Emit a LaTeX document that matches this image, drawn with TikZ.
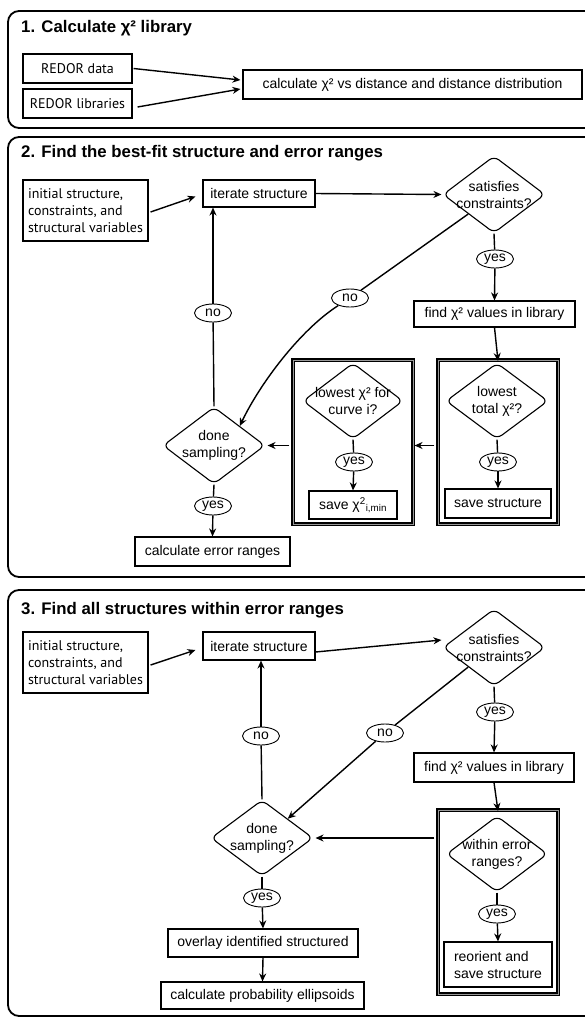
\documentclass[tikz,border=0pt]{standalone}
\usepackage{fontspec}
\setmainfont{Liberation Sans}
\newfontfamily\myr{PT Sans}
\usetikzlibrary{arrows.meta,shapes.geometric}
\begin{document}
\begin{tikzpicture}[x=1pt,y=-1pt,
  base/.style={font=\fontsize{14}{17}\selectfont},
  box/.style={draw, line width=1.1pt, inner sep=0pt, base},
  sz/.style 2 args={minimum width=#1pt, minimum height=#2pt},
  dia/.style={draw, diamond, line width=1.1pt, inner sep=0pt, rounded corners=6pt},
  dtext/.style={align=center, inner sep=0pt, base},
  lbl/.style={draw, ellipse, line width=0.9pt, inner sep=0pt, minimum width=37pt, minimum height=18pt, base},
  frame/.style={draw, double=black!40, line width=1.1pt, double distance=1pt, inner sep=0pt},
  panel/.style={draw, line width=1.8pt, rounded corners=11pt, inner sep=0pt},
  title/.style={anchor=west, inner sep=0pt, font=\fontsize{16.8}{20}\selectfont\bfseries},
  arr/.style={-{Stealth[length=8pt,width=7pt]}, line width=1.4pt},
  ln/.style={line width=1.4pt}]
\useasboundingbox (0,0) rectangle (585,1018);

% panels
\node[panel, sz={592}{117}] (p1) at (304,69.5) {};
\node[panel, sz={592}{440}] (p2) at (304,357) {};
\node[panel, sz={592}{426}] (p3) at (304,803) {};
\node[title] (t1) at (21,28) {1. Calculate χ² library};
\node[title] (t2) at (21,153) {2. Find the best-fit structure and error ranges};
\node[title] (t3) at (21,610) {3. Find all structures within error ranges};

% panel 1
\node[box, sz={109}{29}, font=\myr\fontsize{14}{17}\selectfont] (redata) at (77.5,68.5) {REDOR data};
\node[box, sz={109}{29}, font=\myr\fontsize{14}{17}\selectfont] (relib) at (77.5,103.5) {REDOR libraries};
\node[box, sz={339}{29}] (calc) at (412.5,84.5) {calculate χ² vs distance and distance distribution};
\draw[arr] ([shift={(1,0)}]redata.east) -- ([shift={(-2,-4.5)}]calc.west);
\draw[arr] ([shift={(5,3.5)}]relib.east) -- ([shift={(-2,4.5)}]calc.west);

% panel 2
\node[box, sz={125}{61}, align=left, font=\myr\fontsize{14}{17}\selectfont] (init2) at (85.5,210.5) {initial structure,\\constraints, and\\structural variables};
\node[box, sz={112}{27}] (iter2) at (259,193.5) {iterate structure};
\node[dia, sz={102}{77}] (sat2) at (494,194.5) {};
\node[dtext] (sat2t) at (sat2) {satisfies\\constraints?};
\node[lbl] (yes2a) at (495,259) {yes};
\node[box, sz={161}{26}] (find2) at (494.5,314) {find χ² values in library};
\node[frame, sz={120}{164}] (R2) at (498,442) {};
\node[dia, sz={102}{76}] (lowtot) at (497,401) {};
\node[dtext] (lowtott) at (lowtot) {lowest\\total χ²?};
\node[lbl] (yes2b) at (498,462) {yes};
\node[box, sz={106}{29}] (savestr) at (498,503.5) {save structure};
\node[frame, sz={120}{164}] (L2) at (353,442) {};
\node[dia, sz={100}{76}] (lowi) at (353,401) {};
\node[dtext] (lowit) at (lowi) {lowest χ² for\\curve i?};
\node[lbl] (yes2c) at (354,462) {yes};
\node[box, sz={88}{28}] (savechi) at (353,505) {save χ\textsuperscript{2}\textsubscript{i,min}};
\node[dia, sz={102}{77}] (done2) at (214,445.5) {};
\node[dtext] (done2t) at (done2) {done\\sampling?};
\node[lbl] (no2a) at (213,313) {no};
\node[lbl] (no2b) at (350,298) {no};
\node[lbl] (yes2d) at (213,506) {yes};
\node[box, sz={155}{29}] (errs) at (212.5,551.5) {calculate error ranges};

\draw[arr] ([shift={(2,1.5)}]init2.east) -- ([shift={(-7,3)}]iter2.west);
\draw[arr] (iter2.east) -- ([xshift=-1pt]sat2.west);
\draw[ln] (sat2.south) -- (yes2a);
\draw[arr] (yes2a) -- (find2.north);
\draw[arr] (find2.south) -- ([yshift=-1.5pt]R2.north);
\draw[ln] (lowtot.south) -- (yes2b);
\draw[arr] (yes2b) -- (savestr.north);
\draw[ln] (lowi.south) -- (yes2c);
\draw[arr] (yes2c) -- (savechi.north);
\draw[arr] ([xshift=-3pt]R2.west |- done2) -- ([xshift=1pt]L2.east |- done2);
\draw[arr] ([xshift=-3pt]L2.west |- done2) -- ([xshift=2pt]done2.east);
\draw[ln] (sat2.south west) -- (no2b);
\draw[arr] (no2b) .. controls +(-50,32) and +(20,-42) .. (done2.north east);
\draw[ln] (done2.north) -- (no2a);
\draw[arr] (no2a) -- (no2a |- iter2.south);
\draw[ln] (done2.south) -- (yes2d);
\draw[arr] (yes2d) -- (errs.north);

% panel 3
\node[box, sz={125}{61}, align=left, font=\myr\fontsize{14}{17}\selectfont] (init3) at (85.5,662.5) {initial structure,\\constraints, and\\structural variables};
\node[box, sz={112}{28}] (iter3) at (259,646) {iterate structure};
\node[dia, sz={102}{77}] (sat3) at (494,647.5) {};
\node[dtext] (sat3t) at (sat3) {satisfies\\constraints?};
\node[lbl] (yes3a) at (495,712) {yes};
\node[box, sz={160}{29}] (find3) at (494,767.5) {find χ² values in library};
\node[frame, sz={120}{184}] (R3) at (498,902) {};
\node[dia, sz={101}{76}] (within) at (497,854) {};
\node[dtext] (withint) at (within) {within error\\ranges?};
\node[lbl] (yes3b) at (497,914) {yes};
\node[box, sz={108}{45}, align=left] (reor) at (498,964.5) {reorient and\\save structure};
\node[dia, sz={102}{76}] (done3) at (262,838) {};
\node[dtext] (done3t) at (done3) {done\\sampling?};
\node[lbl] (no3a) at (261,736) {no};
\node[lbl] (no3b) at (385,733) {no};
\node[lbl] (yes3c) at (262,898) {yes};
\node[box, sz={190}{28}] (overlay) at (263,943) {overlay identified structured};
\node[box, sz={203}{27}] (cprob) at (262.5,995.5) {calculate probability ellipsoids};

\draw[arr] ([shift={(2,2.5)}]init3.east) -- ([shift={(-7,4)}]iter3.west);
\draw[arr] ([yshift=-6pt]iter3.east) -- ([shift={(-1,-7.5)}]sat3.west);
\draw[ln] (sat3.south) -- (yes3a);
\draw[arr] (yes3a) -- (find3.north);
\draw[arr] (find3.south) -- ([yshift=-1.5pt]R3.north);
\draw[ln] (within.south) -- (yes3b);
\draw[arr] (yes3b) -- (reor.north);
\draw[arr] ([xshift=-3pt]R3.west |- done3) -- ([xshift=2pt]done3.east);
\draw[ln] (sat3.south west) -- (no3b);
\draw[arr] (no3b) -- (done3.north east);
\draw[ln] (done3.north) -- (no3a);
\draw[arr] (no3a) -- (no3a |- iter3.south);
\draw[ln] (done3.south) -- (yes3c);
\draw[arr] (yes3c) -- (overlay.north);
\draw[arr] (overlay.south) -- (cprob.north);
\end{tikzpicture}
\end{document}
